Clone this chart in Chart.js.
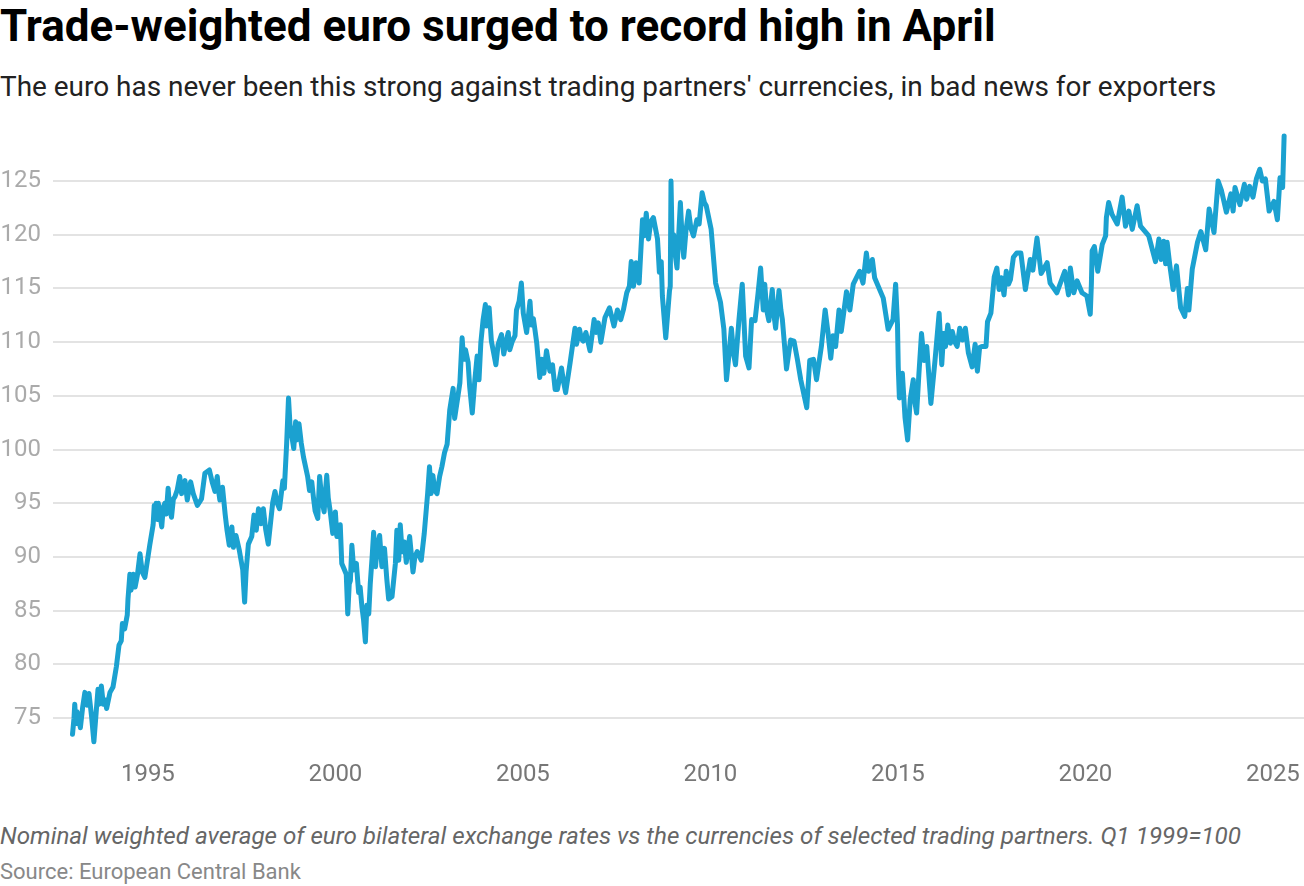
<!DOCTYPE html>
<html>
<head>
<meta charset="utf-8">
<title>Trade-weighted euro</title>
<script src="https://cdn.jsdelivr.net/npm/chart.js@4"></script>
<style>
  html, body { margin: 0; padding: 0; background: #fff; overflow: hidden; }
  body { width: 1304px; height: 886px; position: relative; font-family: Roboto, sans-serif; }
  .txt { position: absolute; left: 0; white-space: nowrap; }
  #title { top: 1px; font-size: 44px; line-height: 50px; font-weight: 700; color: #000; }
  #sub { top: 69px; font-size: 27.95px; line-height: 36px; color: #222; }
  #note { top: 821px; font-size: 24.2px; line-height: 30px; font-style: italic; color: #666; }
  #source { top: 858px; font-size: 22px; line-height: 28px; color: #888; }
  #wrap { position: absolute; left: 0; top: 100px; width: 1304px; height: 690px; }
</style>
</head>
<body>
<div class="txt" id="title">Trade-weighted euro surged to record high in April</div>
<div class="txt" id="sub">The euro has never been this strong against trading partners' currencies, in bad news for exporters</div>
<div id="wrap"><canvas id="chart" width="1304" height="690"></canvas></div>
<div class="txt" id="note">Nominal weighted average of euro bilateral exchange rates vs the currencies of selected trading partners. Q1 1999=100</div>
<div class="txt" id="source">Source: European Central Bank</div>
<script>
// values, one row per year or so
const years = [
  1992.99,1993.03,1993.05,1993.08,1993.11,1993.14,1993.2,1993.26,1993.32,1993.36,1993.38,1993.43,1993.5,1993.56,1993.62,1993.67,1993.7,1993.76,1993.81,1993.86,1993.9,1993.99,
  1994.07,1994.16,1994.23,1994.29,1994.32,1994.38,1994.45,1994.47,1994.52,1994.55,1994.58,1994.61,1994.66,1994.72,1994.79,1994.85,1994.92,
  1995.05,1995.14,1995.17,1995.19,1995.22,1995.25,1995.28,1995.32,1995.37,1995.41,1995.45,1995.49,1995.54,1995.58,1995.63,1995.68,1995.72,1995.78,1995.85,1995.9,1995.94,1995.99,
  1996.05,1996.1,1996.14,1996.21,1996.32,1996.43,1996.52,1996.64,1996.72,1996.79,1996.85,1996.88,1996.92,1996.99,
  1997.06,1997.11,1997.17,1997.21,1997.24,1997.28,1997.35,1997.44,1997.53,1997.55,1997.58,1997.62,1997.68,1997.77,1997.83,1997.89,1997.95,
  1998.01,1998.08,1998.14,1998.21,1998.33,1998.39,1998.45,1998.51,1998.6,1998.64,1998.7,1998.75,1998.79,1998.89,1998.94,1998.97,
  1999.03,1999.09,1999.15,1999.26,1999.31,1999.37,1999.42,1999.46,1999.53,1999.58,1999.64,1999.7,1999.74,1999.77,1999.81,1999.86,1999.93,
  2000.0,2000.04,2000.09,2000.13,2000.17,2000.23,2000.29,2000.33,2000.37,2000.4,2000.44,2000.49,2000.56,2000.62,2000.66,2000.71,2000.75,2000.8,2000.84,2000.89,2000.93,2000.98,
  2001.02,2001.07,2001.12,2001.18,2001.24,2001.28,2001.31,2001.37,2001.42,2001.51,2001.6,2001.64,2001.69,2001.73,2001.78,2001.84,2001.89,2001.98,
  2002.07,2002.12,2002.18,2002.29,2002.37,2002.46,2002.51,2002.55,2002.6,2002.65,2002.71,2002.78,2002.84,2002.91,2002.98,
  2003.05,2003.14,2003.18,2003.27,2003.32,2003.38,2003.42,2003.47,2003.54,2003.58,2003.65,2003.72,2003.78,2003.83,2003.88,2003.94,
  2004.0,2004.03,2004.07,2004.1,2004.16,2004.22,2004.28,2004.34,2004.43,2004.49,2004.55,2004.61,2004.65,2004.72,2004.79,2004.83,2004.9,2004.96,
  2005.01,2005.1,2005.19,2005.23,2005.28,2005.32,2005.37,2005.45,2005.5,2005.56,2005.63,2005.72,2005.79,2005.86,2005.92,
  2006.03,2006.08,2006.14,2006.26,2006.39,2006.43,2006.51,2006.56,2006.61,2006.68,2006.79,2006.9,2006.95,
  2007.01,2007.08,2007.19,2007.31,2007.43,2007.52,2007.61,2007.68,2007.77,2007.84,2007.89,2007.95,
  2008.02,2008.1,2008.19,2008.24,2008.29,2008.35,2008.41,2008.48,2008.59,2008.64,2008.69,2008.72,2008.81,2008.91,2008.93,2008.95,2008.98,
  2009.02,2009.06,2009.11,2009.2,2009.25,2009.29,2009.35,2009.42,2009.48,2009.55,2009.64,2009.7,2009.78,2009.84,2009.89,
  2010.02,2010.14,2010.27,2010.36,2010.43,2010.5,2010.56,2010.62,2010.67,2010.76,2010.85,2010.94,
  2011.03,2011.1,2011.19,2011.27,2011.34,2011.41,2011.45,2011.5,2011.56,2011.65,2011.7,2011.74,2011.83,2011.88,2011.92,
  2012.03,2012.14,2012.23,2012.32,2012.41,2012.57,2012.65,2012.75,2012.83,2012.96,
  2013.06,2013.14,2013.21,2013.27,2013.34,2013.43,2013.49,2013.63,2013.72,2013.81,2013.98,
  2014.07,2014.16,2014.22,2014.32,2014.38,2014.61,2014.74,2014.87,2014.94,2014.99,
  2015.01,2015.04,2015.08,2015.12,2015.19,2015.26,2015.33,2015.41,2015.45,2015.5,2015.56,2015.63,2015.7,2015.77,2015.88,2015.99,
  2016.1,2016.17,2016.22,2016.27,2016.33,2016.4,2016.45,2016.52,2016.58,2016.65,2016.72,2016.8,2016.88,2016.98,
  2017.06,2017.12,2017.18,2017.24,2017.35,2017.39,2017.48,2017.57,2017.64,2017.7,2017.76,2017.83,2017.89,2017.95,
  2018.0,2018.08,2018.17,2018.28,2018.4,2018.53,2018.6,2018.71,2018.82,2018.98,
  2019.06,2019.24,2019.45,2019.55,2019.6,2019.69,2019.78,2019.91,
  2020.04,2020.13,2020.16,2020.18,2020.24,2020.33,2020.45,2020.54,2020.56,2020.62,2020.71,2020.85,2020.98,
  2021.07,2021.16,2021.25,2021.38,2021.47,2021.69,2021.87,2021.96,
  2022.02,2022.09,2022.14,2022.18,2022.25,2022.34,2022.43,2022.54,2022.65,2022.72,2022.76,2022.85,2022.99,
  2023.08,2023.21,2023.3,2023.43,2023.54,2023.63,2023.76,2023.88,2023.94,2023.99,
  2024.12,2024.24,2024.3,2024.38,2024.47,2024.56,2024.65,2024.72,2024.8,2024.9,
  2025.03,2025.12,2025.19,2025.26,2025.3
];
const euroIndex = [
  73.5,75,76.3,74.5,75.6,75.2,74.1,76,77.4,76.4,76.2,77.3,75.1,72.8,75.5,77.7,76.3,78,76.3,76.7,75.9,77.4,
  77.9,79.8,81.8,82.2,83.8,83.3,84.6,86.1,88.4,86.9,88,88.4,87.2,88.3,90.3,88.6,88.1,
  91.1,93,94.8,93.6,95,93.5,95,94,92.8,94.6,95,94,96.4,94.5,93.7,95.4,95.6,96.2,97.5,95.9,96.8,97.1,
  95.3,96.4,97,95.9,94.8,95.4,97.8,98.1,96.9,96.1,97.5,96.3,95.3,96.5,
  94,92.5,91.1,92,92.8,90.9,92,90.6,88.8,87.5,85.8,88.7,91.2,91.9,93.9,92.5,94.5,
  93.1,94.5,92.6,91.2,95.1,96.1,95,94.5,97.1,96.4,100.5,104.8,102.3,100.1,102.6,100.9,
  102.4,100.6,99.3,97.5,96.2,97,95.4,94.3,93.6,97.5,95.3,94.2,96.3,97.6,95.5,94.3,92.2,
  94.2,91.9,92.4,93,89.4,88.9,88.4,84.7,87.5,87.8,91.1,88.8,89.4,86.7,87.2,85.3,84.2,82.1,85.5,84.7,87.5,90,
  92.3,89.1,91,92,89.1,90.6,90.8,88,86.1,86.3,89.4,92.5,89.7,93,90.5,91.4,89.5,91.9,
  88.6,90,90.5,89.7,92.2,95.9,98.4,95.9,97.6,96.2,95.9,97.5,98.4,99.7,100.5,
  103.7,105.7,102.9,105,106.2,110.4,108.4,109.3,108.1,105.9,103.4,106.5,108.7,106.5,110,112.1,
  113.5,111.5,112.9,113.2,110.1,109,107.9,109.8,110.7,108.9,110,110.9,109.3,110.1,110.6,113,113.8,115.5,
  112.7,110.9,113.8,111.6,112.2,111.2,109.9,106.7,108.4,107.1,109.2,107.3,107.9,105.6,105.6,
  107.6,106.4,105.3,108.1,111.3,109.8,111.2,110.3,110.1,110.9,109.2,112.1,110.9,
  111.8,110,112.3,113.2,111.5,113,112.1,113,114.6,115.2,117.5,115.2,
  117.4,115.5,121.4,119.9,122,119.6,121.2,121.6,119.6,116.5,117.5,114.3,110.4,114.8,115.2,125,119.3,
  120,118.2,116.9,123,119.4,117.9,120.4,122.2,120.6,119.9,121.4,121,123.9,123,122.7,
  120.5,115.5,113.7,111.2,106.5,109,111.3,108.9,107.9,112,115.4,108.7,
  107.6,112.1,112,114.5,116.9,113,115.4,113,112,114.9,112.4,111.3,114.8,113,112.1,
  107.5,110.2,110.1,108.4,106.5,103.9,108.3,108.4,106.5,109.6,
  113,110.8,108.5,110.6,109.6,113,111,114.7,113,115.4,116.6,
  115.5,118.3,116.6,117.7,116,114.1,111.2,112.1,115.4,111.6,
  107.7,104.8,106.2,107.1,103,100.9,104.7,106.5,104.5,103.4,107,110.8,108.3,109.6,104.3,108.3,
  112.7,107.9,110.8,109.6,111.6,109.9,111,110,109.6,111.3,110.2,111.3,109,107.7,
  109.8,107.3,109.5,109.6,109.6,111.9,112.7,116.1,116.9,114.9,116,114.4,116.6,115.4,
  115.8,117.9,118.3,118.3,114.9,117.7,116.7,119.7,116.4,117.4,
  115.5,114.6,116.6,114.4,116.9,114.6,115.7,114.6,
  114.3,112.6,115.4,118.5,118.9,116.6,119.1,119.9,121.6,123,121.9,121,123.5,
  120.8,122.2,120.5,122.7,120.8,119.9,117.5,119.6,
  117.7,119.4,117.3,119.3,117.2,114.9,117.1,113.2,112.4,115,113,116.8,119.3,
  120.3,118.6,122.4,120.2,125,124.1,122.1,123.8,122.2,124.4,
  122.8,124.7,123.3,124.5,123.5,125.2,126.1,125,125.2,122.2,
  123.1,121.4,125.3,124.4,129.2
];
const xTickYears = [1995, 2000, 2005, 2010, 2015, 2020, 2025];
const yTickValues = [75, 80, 85, 90, 95, 100, 105, 110, 115, 120, 125];

if (years.length !== euroIndex.length) throw new Error('years and euroIndex differ in length');

new Chart(document.getElementById('chart'), {
  type: 'line',
  data: {
    datasets: [{
      data: years.map((y, i) => ({ x: y, y: euroIndex[i] })),
      borderColor: '#1ba1d0',
      borderWidth: 5,
      pointRadius: 0,
      tension: 0,
      borderJoinStyle: 'round',
      borderCapStyle: 'round'
    }]
  },
  options: {
    responsive: false,
    animation: false,
    devicePixelRatio: 1,
    layout: { padding: { top: 30, left: 0, right: 0, bottom: 0 } },
    plugins: { legend: { display: false }, tooltip: { enabled: false } },
    scales: {
      x: {
        type: 'linear',
        min: 1992.47,
        max: 2025.83,
        afterBuildTicks: s => { s.ticks = xTickYears.map(v => ({ value: v })); },
        // keep the plot running to the right edge of the page
        afterFit: s => { s.height = 45; s.paddingRight = 0; s.paddingLeft = 0; },
        grid: { display: false },
        border: { display: false },
        ticks: {
          autoSkip: false, maxRotation: 0, padding: 8,
          color: '#777', font: { family: 'Roboto', size: 24 },
          callback: v => String(v)
        }
      },
      y: {
        min: 72.5,
        max: 129.75,
        afterBuildTicks: s => { s.ticks = yTickValues.map(v => ({ value: v })); },
        afterFit: s => { s.width = 53; },
        grid: { color: '#e3e3e3', lineWidth: 2, drawTicks: false },
        border: { display: false },
        ticks: {
          padding: 12,
          color: '#aaa', font: { family: 'Roboto', size: 24 },
          callback: v => String(v)
        }
      }
    }
  }
});
</script>
</body>
</html>
